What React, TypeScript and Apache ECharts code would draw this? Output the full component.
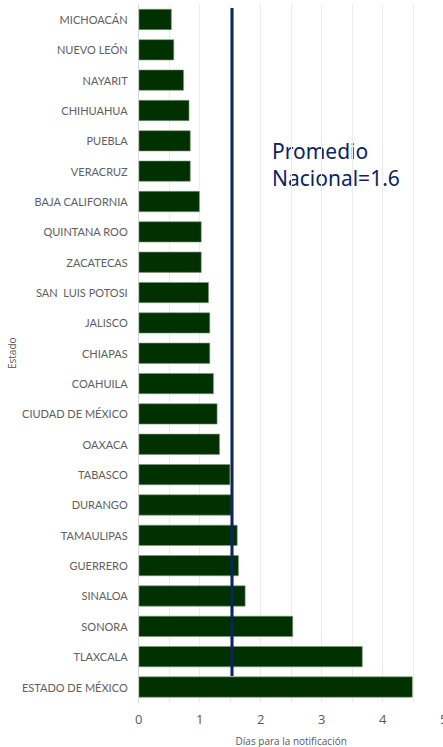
import React, { useEffect, useRef } from "react";
import * as echarts from "echarts";

const estados = [
  "MICHOACÁN", "NUEVO LEÓN", "NAYARIT", "CHIHUAHUA", "PUEBLA", "VERACRUZ",
  "BAJA CALIFORNIA", "QUINTANA ROO", "ZACATECAS", "SAN  LUIS POTOSI", "JALISCO",
  "CHIAPAS", "COAHUILA", "CIUDAD DE MÉXICO", "OAXACA", "TABASCO", "DURANGO",
  "TAMAULIPAS", "GUERRERO", "SINALOA", "SONORA", "TLAXCALA", "ESTADO DE MÉXICO",
];
const dias = [
  0.54, 0.58, 0.74, 0.83, 0.85, 0.85, 1.0, 1.03, 1.03, 1.15, 1.17, 1.17, 1.23,
  1.29, 1.33, 1.5, 1.52, 1.62, 1.64, 1.75, 2.53, 3.67, 4.49,
];
const promedioX = 1.53;
const promedioSpan = [0.9947, 0.0375];
const promedioTexto = "Promedio\nNacional=1.6";
const xTicks = ["0", "1", "2", "3", "4", "5"];

export default function App() {
  const ref = useRef<HTMLDivElement>(null);
  useEffect(() => {
    document.body.style.margin = "0";
    const chart = echarts.init(ref.current!, null, { renderer: "svg" });
    chart.setOption({
      animation: false,
      backgroundColor: "#ffffff",
      grid: {
        left: 138.7,
        right: -0.7,
        top: 4.3,
        bottom: 44.8,
        containLabel: false,
        outerBoundsMode: "none",
      },
      xAxis: {
        type: "value",
        min: 0,
        max: 5,
        interval: 0.5,
        name: "Días para la notificación",
        nameLocation: "middle",
        nameGap: 34,
        nameMoveOverlap: false,
        nameTextStyle: { color: "#595959", fontSize: 10, fontFamily: "Open Sans" },
        axisLine: { show: false },
        axisTick: { show: false },
        axisLabel: {
          color: "#595959",
          fontSize: 13,
          fontFamily: "Open Sans",
          margin: 10,
          formatter: (v: number) => (Number.isInteger(v) ? xTicks[v] : ""),
        },
        splitLine: { show: true, lineStyle: { color: "#ececec", width: 1 } },
      },
      yAxis: [
        {
          type: "category",
          data: estados,
          inverse: true,
          name: "Estado",
          nameLocation: "middle",
          nameGap: 127,
          nameMoveOverlap: false,
          nameRotate: 90,
          nameTextStyle: {
            color: "#595959",
            fontSize: 10,
            fontFamily: "Open Sans",
            verticalAlign: "middle",
          },
          axisLine: { show: true, lineStyle: { color: "#d9d9d9", width: 1 } },
          axisTick: { show: false },
          axisLabel: { color: "#606060", fontSize: 11, fontFamily: "Lato", margin: 11 },
        },
        { type: "value", min: 0, max: 1, show: false },
      ],
      series: [
        {
          type: "bar",
          data: dias,
          barCategoryGap: "31%",
          itemStyle: { color: "#013001", borderColor: "#7a9a7a", borderWidth: 0.6 },
          z: 2,
        },
        {
          type: "line",
          yAxisIndex: 1,
          data: [
            [promedioX, promedioSpan[0]],
            [promedioX, promedioSpan[1]],
          ],
          symbol: "none",
          lineStyle: { color: "#0c2461", width: 3 },
          z: 5,
        },
      ],
      graphic: [
        {
          type: "text",
          left: 272,
          top: 137,
          style: {
            text: promedioTexto,
            fill: "#0c2461",
            fontSize: 21,
            fontFamily: "Noto Sans",
            lineHeight: 27,
          },
        },
      ],
    });
    return () => chart.dispose();
  }, []);
  return <div ref={ref} style={{ width: 443, height: 747 }} />;
}
